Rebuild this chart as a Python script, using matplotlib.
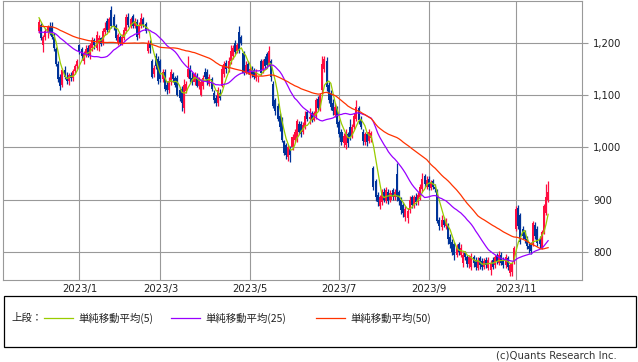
import numpy as np
import pandas as pd
import matplotlib
matplotlib.use("Agg")
import matplotlib.pyplot as plt
from matplotlib.patches import Rectangle

# Tokyo market closed on these days
holidays = ["2023-01-02", "2023-01-03", "2023-01-09", "2023-02-23", "2023-03-21",
            "2023-05-03", "2023-05-04", "2023-05-05", "2023-07-17", "2023-08-11",
            "2023-09-18", "2023-10-09", "2023-11-03", "2023-11-23"]
days = pd.bdate_range("2022-12-06", "2023-11-24", freq="C", holidays=holidays)

# daily prices (Dec 2022 .. Nov 2023), one line per month
opens = [
    1222, 1235, 1195, 1212, 1220, 1230, 1232, 1212, 1188, 1160, 1135, 1120, 1148, 1135, 1128, 1138, 1132, 1146, 1156,
    1195, 1188, 1166, 1178, 1190, 1176, 1190, 1205, 1190, 1200, 1210, 1200, 1220, 1242, 1225, 1262, 1250, 1232, 1200,
    1212, 1200, 1210, 1222, 1250, 1232, 1252, 1232, 1240, 1215, 1232, 1245, 1236, 1185, 1200, 1165, 1140, 1175, 1170,
    1165, 1130, 1145, 1120, 1110, 1125, 1140, 1132, 1133, 1110, 1112, 1075, 1108, 1135, 1150, 1132, 1125, 1137, 1118, 1100, 1118, 1145,
    1145, 1122, 1130, 1105, 1095, 1085, 1105, 1118, 1140, 1162, 1150, 1165, 1175, 1200, 1185, 1220, 1212, 1180, 1145, 1160,
    1138, 1152, 1148, 1132, 1130, 1165, 1148, 1170, 1178, 1160, 1165, 1122, 1090, 1080, 1060, 1055, 1012, 1005, 982, 998,
    1000, 1015, 1015, 1045, 1045, 1030, 1040, 1068, 1055, 1065, 1052, 1060, 1092, 1075, 1110, 1150, 1165, 1120, 1105, 1085, 1062, 1075,
    1048, 1030, 1008, 1005, 1025, 1040, 1022, 1040, 1055, 1075, 1055, 1030, 1010, 1025, 1012, 1018, 960, 935, 910, 888,
    895, 915, 898, 915, 900, 918, 905, 950, 915, 900, 890, 868, 865, 880, 905, 890, 905, 895, 905, 920, 945, 925,
    940, 922, 935, 925, 918, 862, 848, 862, 850, 850, 828, 820, 815, 795, 815, 795, 780, 798, 790, 778,
    772, 790, 785, 770, 788, 782, 772, 785, 770, 765, 785, 775, 792, 780, 795, 785, 775, 788, 760, 762, 782,
    845, 885, 870, 845, 838, 825, 812, 815, 815, 852, 845, 825, 808, 838, 875, 900,
]
highs = [
    1246, 1238, 1215, 1228, 1235, 1240, 1240, 1218, 1192, 1165, 1140, 1152, 1155, 1145, 1142, 1145, 1150, 1160, 1170,
    1198, 1192, 1185, 1195, 1196, 1200, 1212, 1210, 1222, 1215, 1212, 1228, 1240, 1248, 1250, 1270, 1255, 1236, 1218,
    1215, 1216, 1230, 1255, 1258, 1250, 1256, 1248, 1245, 1240, 1258, 1250, 1240, 1205, 1205, 1170, 1158, 1180, 1175,
    1170, 1150, 1150, 1128, 1135, 1150, 1145, 1136, 1138, 1115, 1118, 1130, 1128, 1175, 1158, 1145, 1145, 1142, 1135, 1130, 1138, 1152,
    1150, 1140, 1135, 1110, 1100, 1115, 1112, 1158, 1165, 1168, 1172, 1195, 1195, 1205, 1200, 1232, 1215, 1185, 1165, 1165,
    1158, 1156, 1152, 1150, 1136, 1170, 1170, 1175, 1182, 1194, 1170, 1128, 1095, 1085, 1065, 1058, 1015, 1008, 1005, 1002,
    1025, 1035, 1055, 1050, 1050, 1048, 1070, 1072, 1075, 1070, 1070, 1095, 1098, 1105, 1175, 1175, 1172, 1125, 1110, 1092, 1085, 1080,
    1052, 1035, 1028, 1035, 1030, 1055, 1045, 1065, 1090, 1080, 1060, 1035, 1030, 1030, 1035, 1032, 965, 940, 915, 910,
    920, 922, 925, 920, 918, 922, 920, 970, 918, 905, 895, 888, 885, 908, 910, 910, 912, 915, 930, 952, 950, 945,
    945, 938, 940, 930, 920, 868, 870, 868, 865, 855, 835, 825, 820, 815, 820, 815, 800, 802, 795, 795,
    798, 795, 790, 790, 792, 788, 788, 790, 790, 785, 790, 795, 798, 802, 800, 790, 796, 792, 780, 782, 812,
    888, 890, 875, 850, 842, 830, 818, 820, 860, 858, 850, 830, 842, 892, 930, 935,
]
lows = [
    1218, 1205, 1183, 1205, 1210, 1215, 1208, 1185, 1155, 1125, 1110, 1115, 1130, 1122, 1120, 1128, 1128, 1140, 1150,
    1178, 1168, 1160, 1172, 1172, 1170, 1185, 1188, 1186, 1185, 1194, 1196, 1215, 1220, 1220, 1228, 1225, 1205, 1195,
    1196, 1196, 1206, 1218, 1230, 1228, 1228, 1228, 1205, 1210, 1228, 1230, 1218, 1180, 1180, 1132, 1135, 1150, 1122,
    1125, 1125, 1108, 1102, 1105, 1120, 1125, 1115, 1098, 1088, 1070, 1065, 1105, 1132, 1125, 1120, 1120, 1115, 1112, 1098, 1112, 1130,
    1120, 1118, 1108, 1085, 1080, 1080, 1090, 1115, 1135, 1142, 1145, 1160, 1170, 1178, 1180, 1180, 1195, 1138, 1140, 1140,
    1132, 1135, 1130, 1128, 1126, 1138, 1142, 1150, 1152, 1155, 1128, 1075, 1062, 1050, 1032, 1010, 985, 978, 975, 972,
    995, 1010, 1010, 1025, 1020, 1025, 1035, 1050, 1045, 1048, 1050, 1055, 1070, 1070, 1105, 1145, 1108, 1085, 1072, 1062, 1058, 1040,
    1020, 1005, 1000, 998, 1000, 1015, 1018, 1035, 1050, 1045, 1035, 1005, 1005, 1002, 1008, 1010, 918, 898, 888, 882,
    890, 895, 893, 892, 895, 900, 900, 898, 890, 872, 868, 860, 855, 875, 885, 885, 890, 890, 900, 915, 925, 920,
    918, 918, 920, 915, 855, 842, 843, 848, 845, 815, 808, 795, 785, 790, 795, 790, 772, 785, 772, 770,
    765, 772, 765, 765, 768, 765, 768, 770, 765, 756, 768, 770, 778, 775, 775, 770, 770, 765, 755, 755, 778,
    840, 845, 815, 825, 818, 805, 798, 797, 812, 825, 812, 808, 805, 835, 870, 895,
]
closes = [
    1240, 1210, 1212, 1222, 1230, 1218, 1212, 1190, 1160, 1130, 1118, 1148, 1135, 1128, 1138, 1132, 1146, 1156, 1165,
    1185, 1175, 1180, 1188, 1176, 1195, 1205, 1195, 1215, 1210, 1198, 1222, 1228, 1225, 1245, 1232, 1230, 1210, 1215,
    1200, 1212, 1225, 1250, 1235, 1245, 1232, 1242, 1212, 1235, 1248, 1235, 1222, 1200, 1190, 1135, 1152, 1155, 1128,
    1130, 1145, 1112, 1110, 1128, 1145, 1130, 1120, 1100, 1095, 1085, 1120, 1122, 1150, 1130, 1125, 1140, 1118, 1130, 1125, 1132, 1135,
    1125, 1135, 1112, 1090, 1085, 1110, 1095, 1150, 1160, 1150, 1165, 1185, 1190, 1182, 1195, 1185, 1200, 1142, 1158, 1145,
    1150, 1140, 1134, 1145, 1131, 1142, 1165, 1155, 1158, 1185, 1135, 1080, 1070, 1055, 1040, 1015, 990, 985, 1000, 985,
    1020, 1030, 1050, 1030, 1025, 1042, 1060, 1055, 1058, 1052, 1065, 1090, 1075, 1100, 1160, 1170, 1115, 1090, 1078, 1070, 1078, 1045,
    1025, 1010, 1022, 1030, 1008, 1020, 1040, 1060, 1078, 1052, 1040, 1012, 1025, 1010, 1030, 1028, 925, 905, 895, 905,
    915, 900, 918, 898, 912, 905, 915, 905, 898, 880, 875, 882, 878, 900, 890, 905, 895, 910, 925, 940, 930, 938,
    925, 932, 925, 920, 860, 850, 862, 852, 860, 825, 815, 800, 795, 810, 800, 808, 795, 790, 778, 790,
    792, 780, 772, 785, 775, 772, 782, 775, 785, 780, 772, 790, 782, 795, 780, 775, 790, 772, 775, 778, 808,
    882, 850, 820, 830, 825, 812, 805, 802, 855, 830, 818, 815, 838, 888, 905, 915,
]

yticks = [800, 900, 1000, 1100, 1200]
ma_windows = [5, 25, 50]
ma_start = [1250, 1220, 1232]   # level of each average where the chart begins
ma_colors = ["#99cc00", "#9900ff", "#ff3300"]
ma_labels = ["単純移動平均(5)", "単純移動平均(25)", "単純移動平均(50)"]

o = np.array(opens, float)
h = np.array(highs, float)
l = np.array(lows, float)
c = np.array(closes, float)
x = np.arange(len(c))

fig = plt.figure(figsize=(6.38, 3.62), dpi=100)
ax = fig.add_axes([3 / 638, 82 / 362, 579 / 638, 279 / 362])

up = c >= o
cols = np.where(up, "#ff0d40", "#003399")
ax.vlines(x, l, h, colors=cols, lw=0.9, zorder=2)
body = np.maximum(np.abs(c - o), 1.5)
ax.bar(x, body, bottom=np.minimum(o, c), width=0.95, color=cols, lw=0, zorder=2)

for w, seed, col in zip(ma_windows, ma_start, ma_colors):
    padded = pd.Series(np.r_[np.full(w - 1, seed), c])
    ma = padded.rolling(w).mean().values[w - 1:]
    ax.plot(x, ma, color=col, lw=0.9, zorder=3)

# month ticks: first trading day of odd months
mt = [i for i in range(1, len(days)) if days[i].month != days[i - 1].month and days[i].month % 2 == 1]
ax.set_xticks(mt)
ax.set_xticklabels([f"{days[i].year}/{days[i].month}" for i in mt], fontsize=7.3, color="#222222")
ax.tick_params(axis="x", length=0, pad=3)

ax.yaxis.tick_right()
ax.set_yticks(yticks)
ax.set_yticklabels([f"{v:,}" for v in yticks], fontsize=7.2, color="#222222")
ax.tick_params(axis="y", length=4, color="#999999", pad=4)

ax.set_xlim(-16.9, 254.9)
ax.set_ylim(746.6, 1280)
ax.grid(color="#999999", lw=0.8)
ax.set_axisbelow(True)
for sp in ax.spines.values():
    sp.set_color("#999999")
    sp.set_linewidth(0.8)

# legend panel below the chart, drawn in pixel coordinates
ov = fig.add_axes([0, 0, 1, 1])
ov.set_xlim(0, 638)
ov.set_ylim(362, 0)
ov.axis("off")
ov.patch.set_alpha(0)
ov.add_patch(Rectangle((3.5, 295.5), 632, 51, fill=False, ec="black", lw=0.9))
jp = ["Noto Sans CJK JP", "DejaVu Sans"]
ov.text(11, 318, "上段：", fontsize=7.5, family=jp, va="center", color="#222222")
for x0, col, lab in zip([44, 171, 316], ma_colors, ma_labels):
    ov.plot([x0, x0 + 29], [318, 318], color=col, lw=0.9)
    ov.text(x0 + 34, 318, lab, fontsize=7.5, family=jp, va="center", color="#222222")
ov.text(617, 356, "(c)Quants Research Inc.", fontsize=7.3, ha="right", va="center", color="#333333")

fig.savefig("out.png", dpi=100)
